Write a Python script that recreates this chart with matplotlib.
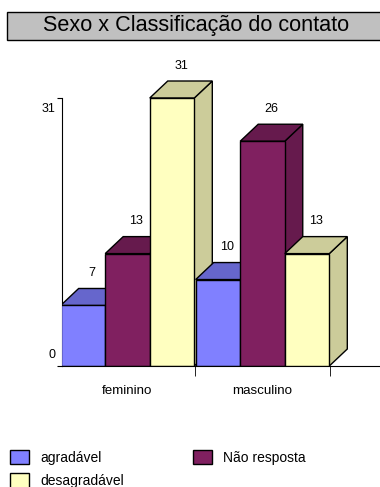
import matplotlib
matplotlib.use("Agg")
import matplotlib.pyplot as plt
import matplotlib.transforms as mtransforms
from matplotlib.patches import Polygon, Rectangle, Patch

plt.rcParams["font.family"] = ["Liberation Sans", "DejaVu Sans"]

categories = ["feminino", "masculino"]
series = ["agradável", "Não resposta", "desagradável"]
values = {
    "agradável": [7, 10],
    "Não resposta": [13, 26],
    "desagradável": [31, 13],
}
front_colors = {"agradável": "#8080FF", "Não resposta": "#802060", "desagradável": "#FFFFC0"}
shade_colors = {"agradável": "#6666CC", "Não resposta": "#661A4D", "desagradável": "#CCCC9A"}

W, H = 380, 487
fig = plt.figure(figsize=(W / 100, H / 100), dpi=100)

# title box
fig.patches.append(Rectangle((7 / W, 1 - 40 / H), 1.2, 28 / H, transform=fig.transFigure,
                             facecolor="#C0C0C0", edgecolor="black", linewidth=1.0))
fig.text(196 / W, 1 - 26 / H, "Sexo x Classificação do contato", ha="center", va="center",
         fontsize=15.6)

ax = fig.add_axes([62 / W, 1 - 366 / H, (W - 62) / W, 316 / H])
ax.set_xlim(-0.485, -0.485 + 318 / 135)
ax.set_ylim(0, 316 / 8.645)

bw = 0.33
dx = 18 / 135
dy = 17 / 8.645
z = 2.0
for gi, cat in enumerate(categories):
    for si, s in enumerate(series):
        v = values[s][gi]
        x0 = gi + (si - 1) * bw - bw / 2
        x1 = x0 + bw
        side = Polygon([(x1, 0), (x1 + dx, dy), (x1 + dx, v + dy), (x1, v)],
                       facecolor=shade_colors[s], edgecolor="black", linewidth=1.0, zorder=z)
        top = Polygon([(x0, v), (x0 + dx, v + dy), (x1 + dx, v + dy), (x1, v)],
                      facecolor=shade_colors[s], edgecolor="black", linewidth=1.0, zorder=z)
        ax.add_patch(side)
        ax.add_patch(top)
        ax.bar(x0, v, width=bw, align="edge", color=front_colors[s], edgecolor="black",
               linewidth=1.0, zorder=z + 0.05)
        ax.annotate(str(v), xy=(x0 + bw / 2 + dx / 2, v + dy), xytext=(0, 11),
                    textcoords="offset points", ha="center", va="center", fontsize=9,
                    zorder=10)
        z += 0.1

for sp in ["top", "right"]:
    ax.spines[sp].set_visible(False)
ax.spines["left"].set_bounds(0, 31)
ax.spines["left"].set_zorder(1)
ax.set_yticks([0, 31])
ax.tick_params(axis="y", length=3.5, labelsize=9, pad=1)
# the reference draws the 0 label a bit above the baseline and 31 a bit below its tick
for lab, shift in zip(ax.get_yticklabels(), [13, -9]):
    off = mtransforms.ScaledTranslation(0, shift / 100, fig.dpi_scale_trans)
    lab.set_transform(lab.get_transform() + off)
ax.set_xticks([0, 1])
ax.set_xticklabels(categories)
ax.set_xticks([0.5, 1.5], minor=True)
ax.tick_params(axis="x", which="major", length=0, labelsize=9.6, pad=14)
ax.tick_params(axis="x", which="minor", length=7, direction="out")

handles = [Patch(facecolor=front_colors[s], edgecolor="black", label=s)
           for s in ["agradável", "desagradável", "Não resposta"]]
fig.legend(handles=handles, ncol=2, loc="upper left", bbox_to_anchor=(10 / W, 1 - 450 / H),
           frameon=False, fontsize=10, handlelength=1.37, handleheight=1.22,
           handletextpad=0.8, columnspacing=5.0, labelspacing=0.6, borderaxespad=0.0,
           borderpad=0.0)

fig.savefig("out.png", dpi=100)
